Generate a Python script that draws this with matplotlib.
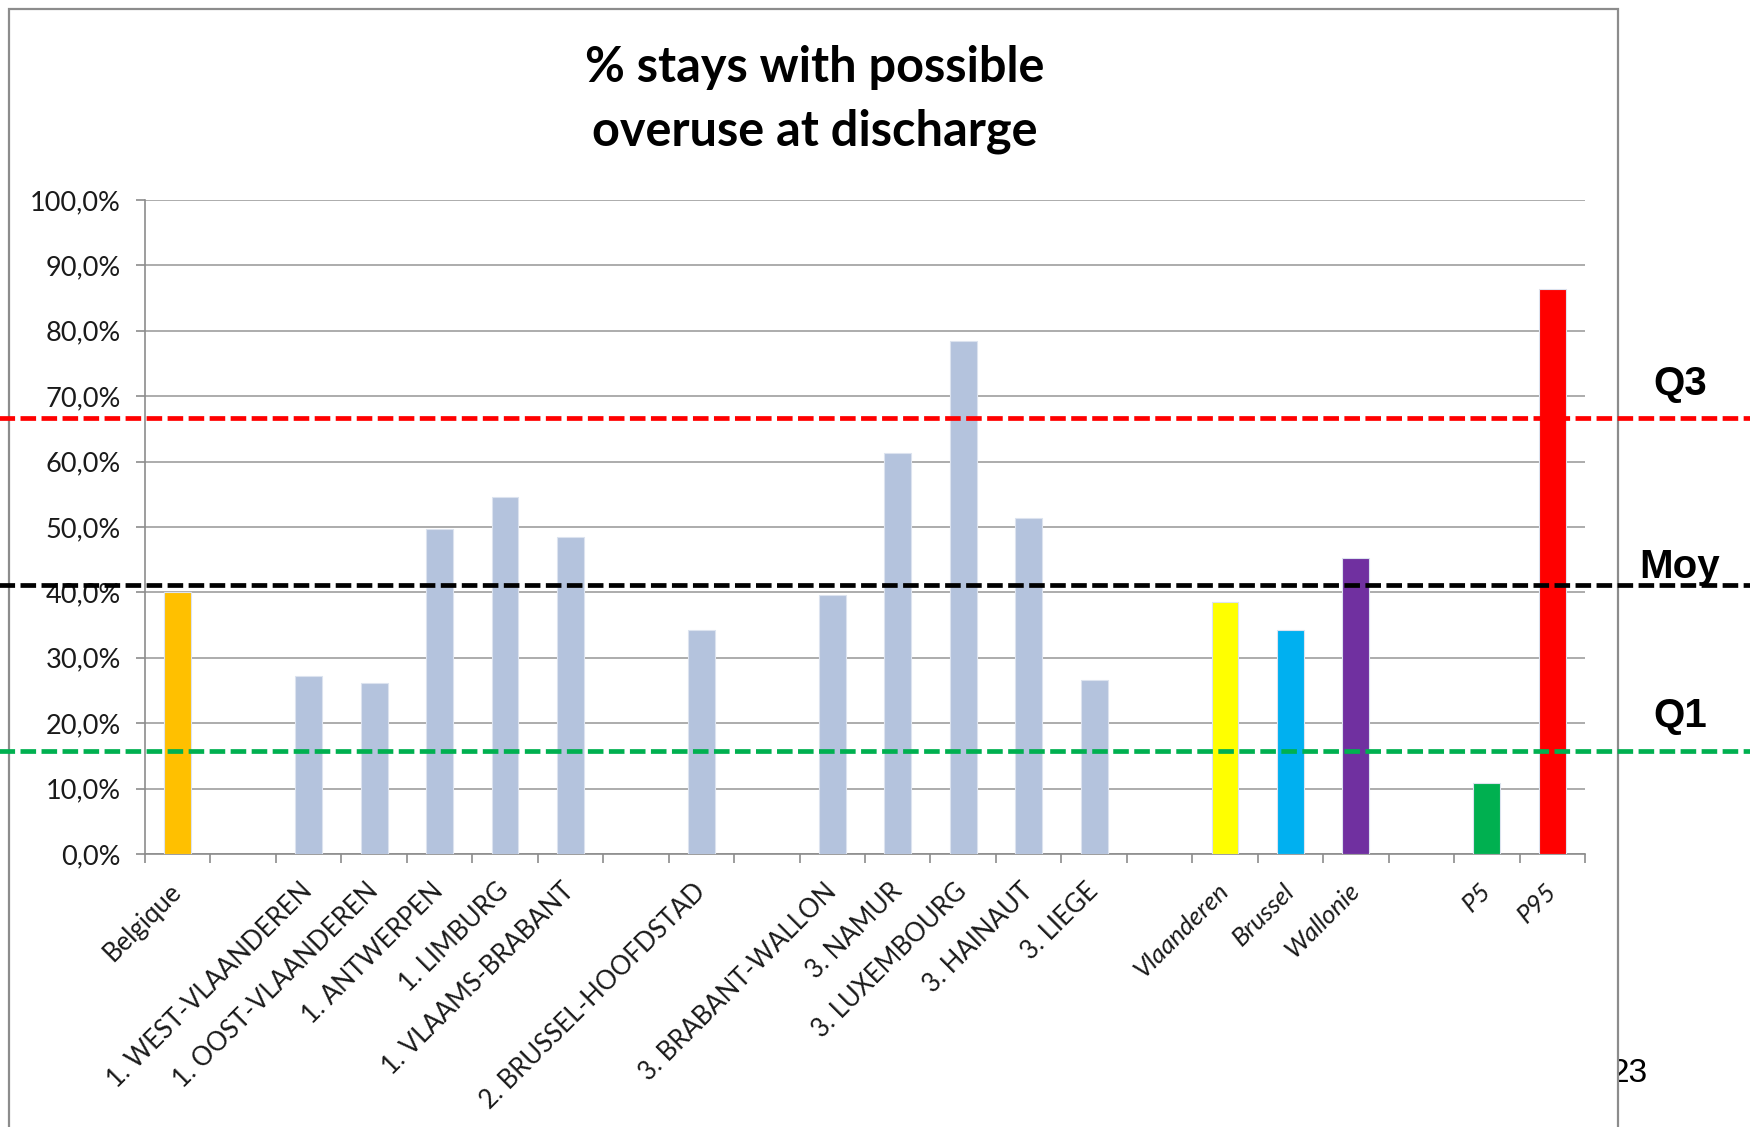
import numpy as np
import matplotlib.pyplot as plt
from matplotlib.patches import Rectangle

# categories (blank entries are the gaps between groups)
labels = ['Belgique', '', '1. WEST-VLAANDEREN', '1. OOST-VLAANDEREN', '1. ANTWERPEN',
          '1. LIMBURG', '1. VLAAMS-BRABANT', '', '2. BRUSSEL-HOOFDSTAD', '',
          '3. BRABANT-WALLON', '3. NAMUR', '3. LUXEMBOURG', '3. HAINAUT', '3. LIEGE', '',
          'Vlaanderen', 'Brussel', 'Wallonie', '', 'P5', 'P95']
values = [40.0, np.nan, 27.2, 26.1, 49.7, 54.6, 48.5, np.nan, 34.2, np.nan,
          39.6, 61.3, 78.5, 51.4, 26.6, np.nan, 38.5, 34.2, 45.2, np.nan, 10.9, 86.4]
prov = '#B4C3DD'
bar_colors = ['#FFC000', 'w', prov, prov, prov, prov, prov, 'w', prov, 'w',
              prov, prov, prov, prov, prov, 'w', '#FFFF00', '#00B0F0', '#7030A0', 'w',
              '#00B050', '#FF0000']
italic_labels = ['Vlaanderen', 'Brussel', 'Wallonie', 'P5', 'P95']

# reference lines
q3 = 66.6
moy = 41.2
q1 = 15.8

W, H = 1750, 1127
fig = plt.figure(figsize=(W / 100, H / 100), dpi=100)
ax = fig.add_axes([145 / W, 1 - 854 / H, 1440 / W, 654 / H])
ax.set_zorder(2)

x = np.arange(len(labels))
ax.bar(x, values, 0.41, color=bar_colors, edgecolor='#DCE3EF', linewidth=0.8, zorder=3)

ax.set_xlim(-0.5, len(labels) - 0.5)
ax.set_ylim(0, 100)
ax.set_yticks(np.arange(0, 101, 10))
ax.set_yticklabels([('%.1f' % v).replace('.', ',') + '%' for v in np.arange(0, 101, 10)])
ax.yaxis.grid(True, color='#A6A6A6', linewidth=1.3)
ax.set_axisbelow(True)

# ticks between categories, labels at centres
ax.set_xticks(np.arange(-0.5, len(labels), 1.0))
ax.set_xticklabels([])
ax.set_xticks(x, minor=True)
ax.set_xticklabels(labels, minor=True, rotation=45, ha='right', va='center',
                   rotation_mode='anchor', fontsize=18.5, family='Lato', color='#1a1a1a')
for t in ax.get_xticklabels(minor=True):
    if t.get_text() in italic_labels:
        t.set_style('italic')
ax.tick_params(axis='x', which='minor', length=0, pad=24)
ax.tick_params(axis='x', which='major', length=6.5, width=1.2, color='#8C8C8C', direction='out')
ax.tick_params(axis='y', length=6.5, width=1.2, color='#8C8C8C', pad=11, labelsize=19.5)
for t in ax.get_yticklabels():
    t.set_family('Lato')
    t.set_color('#1a1a1a')

for s in ['top', 'right']:
    ax.spines[s].set_visible(False)
for s in ['left', 'bottom']:
    ax.spines[s].set_color('#8C8C8C')
    ax.spines[s].set_linewidth(1.2)

# dashed lines run across the whole slide
for val, col in [(q3, '#FF0000'), (moy, '#000000'), (q1, '#00B050')]:
    ax.axhline(val, xmin=-0.11, xmax=1.12, color=col, linewidth=3.4,
               dashes=(3.3, 1.15), clip_on=False, zorder=6)

# chart frame
fig.patches.append(Rectangle((9 / W, -0.1), (1618 - 9) / W, 1.1 - 9 / H,
                             transform=fig.transFigure, facecolor='white',
                             edgecolor='#8C8C8C', linewidth=1.6, zorder=1))

fig.text(815 / W, 1 - 100 / H, '% stays with possible\noveruse at discharge',
         ha='center', va='center', fontsize=35, fontweight='bold', family='Lato',
         linespacing=1.5)

for txt, yy in [('Q3', 384), ('Moy', 567), ('Q1', 716)]:
    fig.text(1680 / W, 1 - yy / H, txt, ha='center', va='center', fontsize=29,
             fontweight='bold', family='Liberation Sans', zorder=7)

fig.text(1648 / W, 1 - 1074 / H, '23', ha='right', va='center', fontsize=24,
         family='Liberation Sans', zorder=0.5)

fig.savefig('out.png', dpi=100)
